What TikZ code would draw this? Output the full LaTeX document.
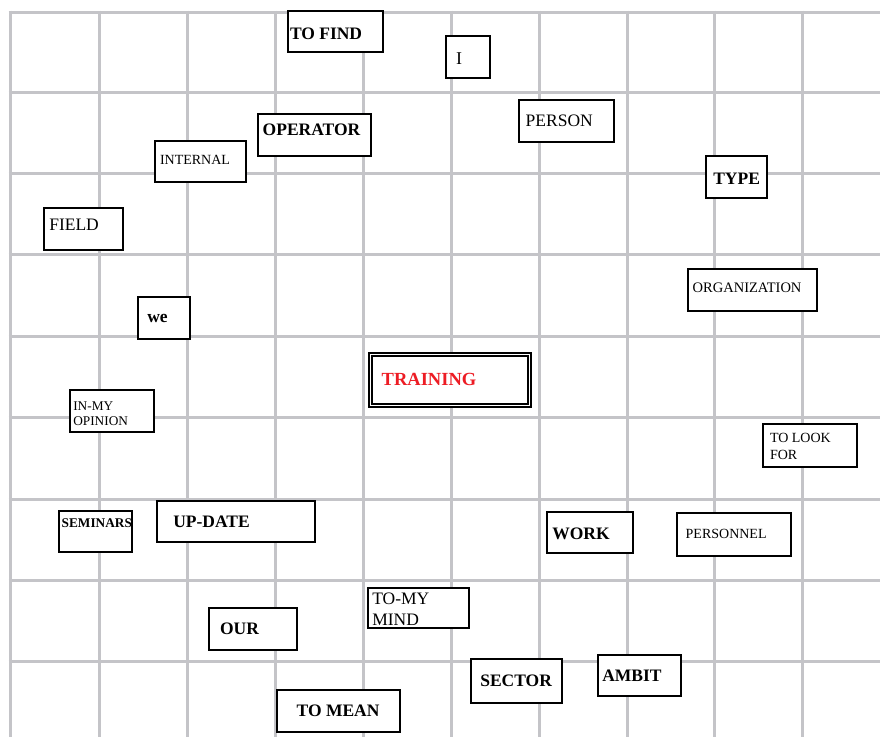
\documentclass[tikz,border=0pt]{standalone}
\usepackage{fontspec}
\setmainfont{Liberation Serif}
\usetikzlibrary{fit}
\definecolor{gridgray}{RGB}{196,196,200}
\definecolor{trainred}{RGB}{237,28,36}
\newcommand{\bigsz}{\fontsize{17.5}{21}\selectfont}
\newcommand{\smlsz}{\fontsize{14}{16.5}\selectfont}
\tikzset{
  gridline/.style={draw=gridgray,line width=3pt},
  box/.style={draw=black,fill=white,line width=2pt,inner sep=0pt},
  dbox/.style={draw=black,fill=white,line width=1.8pt,double=white,double distance=1.6pt,inner sep=0pt},
  txt/.style={anchor=base west,inner sep=0pt,outer sep=0pt},
  bld/.style={txt,font=\bfseries\bigsz},
  reg/.style={txt,font=\bigsz},
  bsm/.style={txt,font=\bfseries\smlsz},
  rsm/.style={txt,font=\smlsz}
}
\begin{document}
\begin{tikzpicture}[x=1pt,y=-1pt]
\useasboundingbox (0,0) rectangle (880,737);
% grid
\foreach \gx in {10,99,187,275,363,451,539,627,714,802}
  \draw[gridline] (\gx,10.5) -- (\gx,737);
\foreach \gy in {12,92,173,254,336,417,499,580,661}
  \draw[gridline] (8.5,\gy) -- (880,\gy);
% boxes
\node[box,fit={(288,11)(383,52)}] (tofindbox) {};
\node[box,fit={(446,36)(490,78)}] (ibox) {};
\node[box,fit={(519,100)(614,142)}] (personbox) {};
\node[box,fit={(258,114)(371,156)}] (operatorbox) {};
\node[box,fit={(155,141)(246,182)}] (internalbox) {};
\node[box,fit={(44,208)(123,250)}] (fieldbox) {};
\node[box,fit={(706,156)(767,198)}] (typebox) {};
\node[box,fit={(688,269)(817,311)}] (orgbox) {};
\node[box,fit={(138,297)(190,339)}] (webox) {};
\node[box,fit={(70,390)(154,432)}] (opinionbox) {};
\node[box,fit={(59,511)(132,552)}] (seminarsbox) {};
\node[box,fit={(157,501)(315,542)}] (updatebox) {};
\node[dbox,fit={(370.6,354.6)(529.4,405.4)}] (trainingbox) {};
\node[box,fit={(763,424)(857,467)}] (lookbox) {};
\node[box,fit={(547,512)(633,553)}] (workbox) {};
\node[box,fit={(677,513)(791,556)}] (personnelbox) {};
\node[box,fit={(209,608)(297,650)}] (ourbox) {};
\node[box,fit={(368,588)(469,628)}] (mindbox) {};
\node[box,fit={(277,690)(400,732)}] (meanbox) {};
\node[box,fit={(471,659)(562,703)}] (sectorbox) {};
\node[box,fit={(598,655)(681,696)}] (ambitbox) {};
% texts
\node[bld] (tofind) at (290,39.5) {TO FIND};
\node[reg,font=\fontsize{18}{21}\selectfont] (i) at (456,64) {I};
\node[reg] (person) at (525.7,126.7) {PERSON};
\node[bld] (operator) at (262.7,135) {OPERATOR};
\node[rsm] (internal) at (160,164.7) {INTERNAL};
\node[reg] (field) at (49.3,230) {FIELD};
\node[bld] (type) at (713.3,184.3) {TYPE};
\node[rsm,font=\fontsize{14.5}{17}\selectfont] (org) at (692.7,292.7) {ORGANIZATION};
\node[bld] (we) at (147.3,322.7) {we};
\node[rsm,font=\fontsize{13.3}{15.7}\selectfont] (opinion) at (73.3,410) {\begin{tabular}[t]{@{}l@{}}IN-MY\\OPINION\end{tabular}};
\node[bsm,font=\bfseries\fontsize{13.3}{16}\selectfont] (seminars) at (61.7,527.7) {SEMINARS};
\node[bld] (update) at (173.3,527.3) {UP-DATE};
\node[bld,font=\bfseries\fontsize{18.5}{22}\selectfont,text=trainred] (training) at (381.7,385) {TRAINING};
\node[rsm,font=\fontsize{14}{16.7}\selectfont] (look) at (770,442.3) {\begin{tabular}[t]{@{}l@{}}TO LOOK\\FOR\end{tabular}};
\node[bld] (work) at (552.3,539) {WORK};
\node[rsm] (personnel) at (685.7,538.3) {PERSONNEL};
\node[bld] (our) at (220,634.3) {OUR};
\node[reg,font=\fontsize{17.5}{21}\selectfont] (mind) at (372.3,604) {\begin{tabular}[t]{@{}l@{}}TO-MY\\MIND\end{tabular}};
\node[bld] (mean) at (296.7,716) {TO MEAN};
\node[bld] (sector) at (480.3,686) {SECTOR};
\node[bld] (ambit) at (602.3,681.3) {AMBIT};
\end{tikzpicture}
\end{document}
